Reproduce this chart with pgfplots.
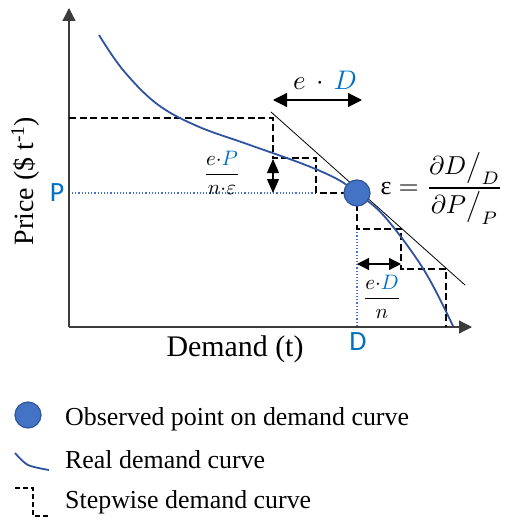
\documentclass[border=0pt]{standalone}
\usepackage{amsmath}
\usepackage{fontspec}
\setmainfont{Liberation Serif}
\newfontfamily\calibri{Carlito}
\usepackage{pgfplots}
\pgfplotsset{compat=1.18}
\usetikzlibrary{arrows.meta}
\definecolor{curvecol}{RGB}{47,82,158}
\definecolor{ptfill}{RGB}{68,114,196}
\definecolor{ptdraw}{RGB}{47,85,151}
\definecolor{bluetxt}{RGB}{0,112,192}
\definecolor{axcol}{RGB}{60,60,60}
\begin{document}
\begin{tikzpicture}[every node/.style={inner sep=0pt}]
\begin{axis}[
  scale only axis, width=510bp, height=518bp,
  xmin=0, xmax=510, ymin=0, ymax=518, y dir=reverse,
  hide axis, clip=false,
]
% invisible frame fixing the picture's extent
\addplot[draw=none, forget plot] coordinates {(0,0) (510,0) (510,518) (0,518)};
% axes
\addplot[axcol, line width=1.2bp, -{Triangle[length=13bp,width=13bp]}] coordinates {(69,327) (69,8)};
\addplot[axcol, line width=1.2bp, -{Triangle[length=13bp,width=13bp]}] coordinates {(69,327) (472,327)};
% dotted P and D lines
\addplot[ptfill, line width=1.2bp, dotted] coordinates {(72,193) (315,193)};
\addplot[ptfill, line width=1.2bp, dotted] coordinates {(357,229) (357,327)};
% tangent
\addplot[black, line width=0.8bp] coordinates {(271,112) (465,285)};
% stepwise curve
\addplot[black, line width=1.6bp, dash pattern=on 7bp off 3.5bp] coordinates {(69,118) (273,118) (273,158) (316,158) (316,193) (357,193)};
\addplot[black, line width=1.6bp, dash pattern=on 7bp off 3.5bp] coordinates {(357,193) (357,229) (401,229) (401,269) (446,269) (446,327)};
% real demand curve
\addplot[curvecol, line width=1.8bp, smooth, tension=0.6] coordinates {(99,35) (123,70) (157,104) (197,126) (247,144) (303,164) (337,179) (357,193) (385,217) (424,270) (453,326)};
% arrows
\addplot[black, line width=1.2bp, {Triangle[length=14bp,width=14bp]}-{Triangle[length=14bp,width=14bp]}] coordinates {(273,100) (362,100)};
\addplot[black, line width=1.2bp, {Triangle[length=14bp,width=12bp]}-{Triangle[length=14bp,width=12bp]}] coordinates {(273,159) (273,193)};
\addplot[black, line width=1.2bp, {Triangle[length=12bp,width=12bp]}-{Triangle[length=12bp,width=12bp]}] coordinates {(357,264) (401,264)};
% observed point
\addplot[only marks, mark=*, mark size=13bp, mark options={fill=ptfill, draw=ptdraw, line width=1.2bp}] coordinates {(357,193)};
% labels
\node[anchor=base, font=\fontsize{30}{34}\selectfont] at (235,356) {Demand (t)};
\node[anchor=base, rotate=90, font=\fontsize{28}{32}\selectfont] at (33,181) {Price (\$ t\textsuperscript{-1})};
\node[font=\calibri\fontsize{28}{32}\selectfont, text=bluetxt] at (57,193) {P};
\node[font=\calibri\fontsize{28}{32}\selectfont, text=bluetxt] at (358,342) {D};
\node[scale=2.7] at (325,80) {$e\,\cdot\,\textcolor{bluetxt}{D}$};
\node[scale=2.1] at (222,173) {$\displaystyle\frac{e{\cdot}\textcolor{bluetxt}{P}}{n{\cdot}\varepsilon}$};
\node[scale=2.1] at (382,297) {$\displaystyle\frac{e{\cdot}\textcolor{bluetxt}{D}}{n}$};
\node[anchor=west, scale=2.6] at (380,188) {$\text{ε}=\dfrac{\partial D\big/_{D}}{\partial P\big/_{P}}$};
% legend
\addplot[only marks, mark=*, mark size=13bp, mark options={fill=ptfill, draw=ptdraw, line width=1.2bp}] coordinates {(28,415)};
\addplot[curvecol, line width=1.8bp, smooth] coordinates {(15,453) (28,465) (49,470)};
\addplot[black, line width=1.6bp, dash pattern=on 5bp off 3bp] coordinates {(15,488) (33,488) (33,516) (49,516)};
\node[anchor=base west, font=\fontsize{26}{30}\selectfont] at (65,425) {Observed point on demand curve};
\node[anchor=base west, font=\fontsize{26}{30}\selectfont] at (65,468) {Real demand curve};
\node[anchor=base west, font=\fontsize{26}{30}\selectfont] at (65,508) {Stepwise demand curve};
\end{axis}
\end{tikzpicture}
\end{document}
